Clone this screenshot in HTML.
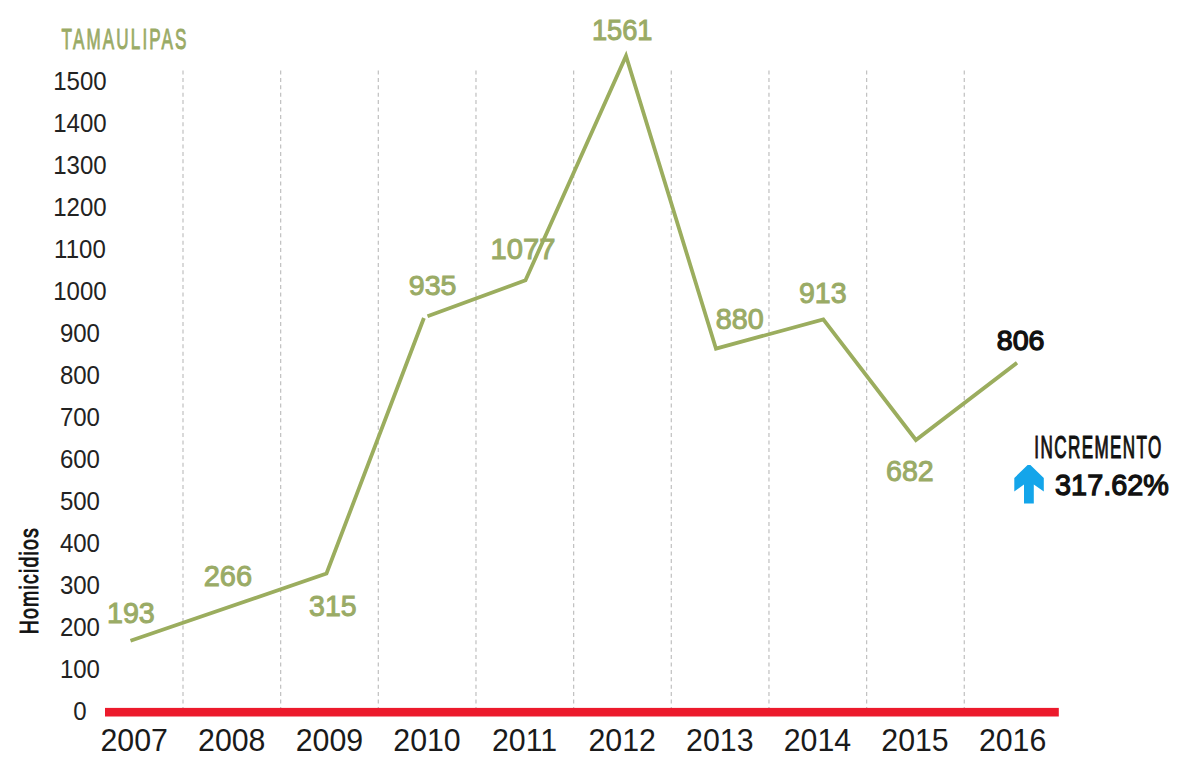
<!DOCTYPE html>
<html><head><meta charset="utf-8">
<style>
html,body{margin:0;padding:0;background:#fff;}
body{width:1200px;height:765px;overflow:hidden;position:relative;}
svg{position:absolute;left:0;top:0;}
text{font-family:"Liberation Sans",sans-serif;}
.dl{stroke:#c2c2c2;stroke-width:1.25;stroke-dasharray:4 3.4;}
</style></head><body>
<svg width="1200" height="765" viewBox="0 0 1200 765">
<line x1="183.00" y1="70.5" x2="183.00" y2="716" class="dl"/><line x1="280.66" y1="70.5" x2="280.66" y2="716" class="dl"/><line x1="378.32" y1="70.5" x2="378.32" y2="716" class="dl"/><line x1="475.98" y1="70.5" x2="475.98" y2="716" class="dl"/><line x1="573.64" y1="70.5" x2="573.64" y2="716" class="dl"/><line x1="671.30" y1="70.5" x2="671.30" y2="716" class="dl"/><line x1="768.96" y1="70.5" x2="768.96" y2="716" class="dl"/><line x1="866.62" y1="70.5" x2="866.62" y2="716" class="dl"/><line x1="964.28" y1="70.5" x2="964.28" y2="716" class="dl"/>
<rect x="105" y="707.9" width="953.8" height="8.6" fill="#ec1a2c"/>
<polyline points="130.5,640.8 326.5,573.5 423.9,318.0" fill="none" stroke="#9bad5e" stroke-width="3.8" stroke-linejoin="miter" stroke-miterlimit="10"/>
<polyline points="427.5,316.3 525.5,280.3 626,56 716,348.7 823.3,319.3 915.9,440 1017,362.8" fill="none" stroke="#9bad5e" stroke-width="3.8" stroke-linejoin="miter" stroke-miterlimit="10"/>
<polygon points="1027.6,465 1030.4,465 1043.8,478 1043.8,491.4 1033.8,484.5 1033.8,503.4 1024,503.4 1024,484.5 1014.3,491.4 1014.3,478" fill="#14a5ea"/>
<text transform="translate(79.93,89.81) scale(1,1.0419)" x="0" y="0" text-anchor="middle" font-size="24.04" fill="#222">1500</text><text transform="translate(79.93,131.79) scale(1,1.0419)" x="0" y="0" text-anchor="middle" font-size="24.04" fill="#222">1400</text><text transform="translate(79.93,173.78) scale(1,1.0419)" x="0" y="0" text-anchor="middle" font-size="24.04" fill="#222">1300</text><text transform="translate(79.93,215.76) scale(1,1.0419)" x="0" y="0" text-anchor="middle" font-size="24.04" fill="#222">1200</text><text transform="translate(79.93,257.75) scale(1,1.0419)" x="0" y="0" text-anchor="middle" font-size="24.04" fill="#222">1100</text><text transform="translate(79.93,299.73) scale(1,1.0419)" x="0" y="0" text-anchor="middle" font-size="24.04" fill="#222">1000</text><text transform="translate(79.93,341.71) scale(1,1.0419)" x="0" y="0" text-anchor="middle" font-size="24.04" fill="#222">900</text><text transform="translate(79.93,383.70) scale(1,1.0419)" x="0" y="0" text-anchor="middle" font-size="24.04" fill="#222">800</text><text transform="translate(79.93,425.68) scale(1,1.0419)" x="0" y="0" text-anchor="middle" font-size="24.04" fill="#222">700</text><text transform="translate(79.93,467.67) scale(1,1.0419)" x="0" y="0" text-anchor="middle" font-size="24.04" fill="#222">600</text><text transform="translate(79.93,509.65) scale(1,1.0419)" x="0" y="0" text-anchor="middle" font-size="24.04" fill="#222">500</text><text transform="translate(79.93,551.63) scale(1,1.0419)" x="0" y="0" text-anchor="middle" font-size="24.04" fill="#222">400</text><text transform="translate(79.93,593.62) scale(1,1.0419)" x="0" y="0" text-anchor="middle" font-size="24.04" fill="#222">300</text><text transform="translate(79.93,635.60) scale(1,1.0419)" x="0" y="0" text-anchor="middle" font-size="24.04" fill="#222">200</text><text transform="translate(79.93,677.59) scale(1,1.0419)" x="0" y="0" text-anchor="middle" font-size="24.04" fill="#222">100</text><text transform="translate(79.93,719.57) scale(1,1.0419)" x="0" y="0" text-anchor="middle" font-size="24.04" fill="#222">0</text><text transform="translate(134.18,751.03) scale(1,1.0280)" x="0" y="0" text-anchor="middle" font-size="30.31" fill="#1a1a1a">2007</text><text transform="translate(231.78,751.03) scale(1,1.0280)" x="0" y="0" text-anchor="middle" font-size="30.31" fill="#1a1a1a">2008</text><text transform="translate(329.38,751.03) scale(1,1.0280)" x="0" y="0" text-anchor="middle" font-size="30.31" fill="#1a1a1a">2009</text><text transform="translate(426.99,751.03) scale(1,1.0280)" x="0" y="0" text-anchor="middle" font-size="30.31" fill="#1a1a1a">2010</text><text transform="translate(524.59,751.03) scale(1,1.0280)" x="0" y="0" text-anchor="middle" font-size="30.31" fill="#1a1a1a">2011</text><text transform="translate(622.19,751.03) scale(1,1.0280)" x="0" y="0" text-anchor="middle" font-size="30.31" fill="#1a1a1a">2012</text><text transform="translate(719.80,751.03) scale(1,1.0280)" x="0" y="0" text-anchor="middle" font-size="30.31" fill="#1a1a1a">2013</text><text transform="translate(817.40,751.03) scale(1,1.0280)" x="0" y="0" text-anchor="middle" font-size="30.31" fill="#1a1a1a">2014</text><text transform="translate(915.01,751.03) scale(1,1.0280)" x="0" y="0" text-anchor="middle" font-size="30.31" fill="#1a1a1a">2015</text><text transform="translate(1012.61,751.03) scale(1,1.0280)" x="0" y="0" text-anchor="middle" font-size="30.31" fill="#1a1a1a">2016</text><text x="130.91" y="623.45" text-anchor="middle" font-size="29.26" fill="#9aab66" stroke="#9aab66" stroke-width="1.0" textLength="47.86" lengthAdjust="spacingAndGlyphs">193</text><text x="227.94" y="585.91" text-anchor="middle" font-size="29.24" fill="#9aab66" stroke="#9aab66" stroke-width="1.0" textLength="48.39" lengthAdjust="spacingAndGlyphs">266</text><text x="332.87" y="616.07" text-anchor="middle" font-size="29.19" fill="#9aab66" stroke="#9aab66" stroke-width="1.0" textLength="47.55" lengthAdjust="spacingAndGlyphs">315</text><text x="432.69" y="295.39" text-anchor="middle" font-size="28.32" fill="#9aab66" stroke="#9aab66" stroke-width="1.0" textLength="47.68" lengthAdjust="spacingAndGlyphs">935</text><text x="523.04" y="258.64" text-anchor="middle" font-size="29.26" fill="#9aab66" stroke="#9aab66" stroke-width="1.0" textLength="64.92" lengthAdjust="spacingAndGlyphs">1077</text><text x="622.19" y="40.25" text-anchor="middle" font-size="28.90" fill="#9aab66" stroke="#9aab66" stroke-width="1.0" textLength="60.62" lengthAdjust="spacingAndGlyphs">1561</text><text x="739.65" y="329.27" text-anchor="middle" font-size="28.92" fill="#9aab66" stroke="#9aab66" stroke-width="1.0" textLength="47.95" lengthAdjust="spacingAndGlyphs">880</text><text x="822.76" y="303.27" text-anchor="middle" font-size="29.06" fill="#9aab66" stroke="#9aab66" stroke-width="1.0" textLength="47.68" lengthAdjust="spacingAndGlyphs">913</text><text x="909.91" y="480.79" text-anchor="middle" font-size="29.09" fill="#9aab66" stroke="#9aab66" stroke-width="1.0" textLength="47.66" lengthAdjust="spacingAndGlyphs">682</text><text x="1020.64" y="349.79" text-anchor="middle" font-size="27.60" fill="#111" stroke="#111" stroke-width="1.3" textLength="47.66" lengthAdjust="spacingAndGlyphs">806</text><text x="1111.95" y="495.26" text-anchor="middle" font-size="29.96" fill="#111" stroke="#111" stroke-width="1.3" textLength="113.68" lengthAdjust="spacingAndGlyphs">317.62%</text><text transform="translate(61.60,49.45) scale(0.5650,1)" x="0" y="0" text-anchor="start" font-size="30.22" fill="#9aab66" stroke="#9aab66" stroke-width="0.800" vector-effect="non-scaling-stroke" textLength="221.03" lengthAdjust="spacing">TAMAULIPAS</text><text transform="translate(1034.32,457.73) scale(0.5420,1)" x="0" y="0" text-anchor="start" font-size="31.49" fill="#111" stroke="#111" stroke-width="0.900" vector-effect="non-scaling-stroke" textLength="234.36" lengthAdjust="spacing">INCREMENTO</text>
<text transform="translate(38.11,634.33) rotate(-90) scale(0.7350,1)" x="0" y="0" font-size="26.62" fill="#111" stroke="#111" stroke-width="0.800" vector-effect="non-scaling-stroke" textLength="144.46" lengthAdjust="spacing">Homicidios</text>
</svg>
</body></html>
